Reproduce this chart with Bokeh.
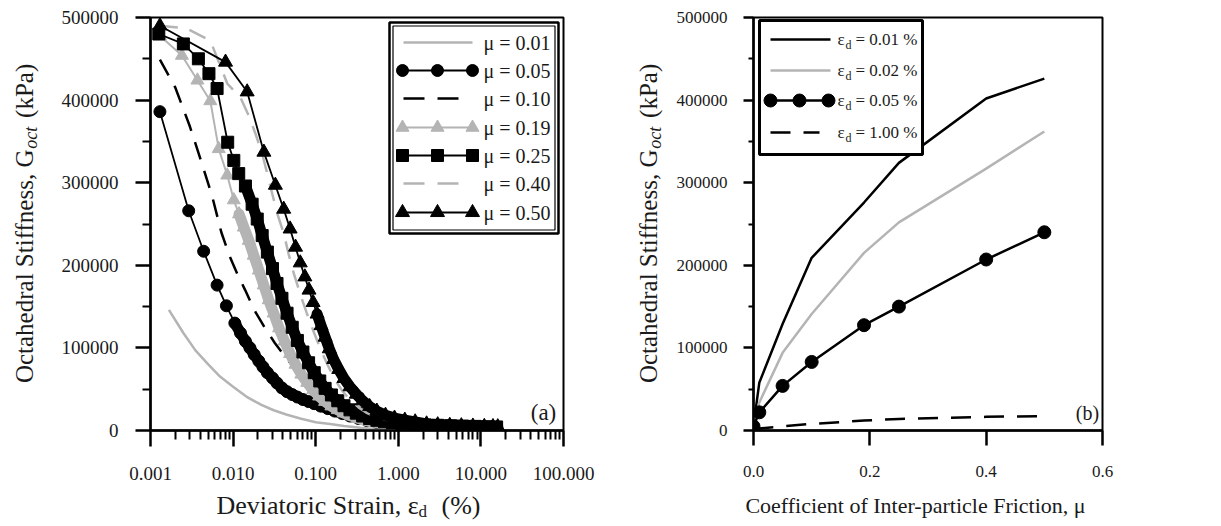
from math import pi
from bokeh.plotting import figure
from bokeh.models import Range1d, LinearScale, FixedTicker, PrintfTickFormatter, Label
from bokeh.layouts import row, column
from bokeh.core.properties import value
from bokeh.embed import file_html
from bokeh.resources import INLINE

FONT = "Liberation Serif"
INK = "#1a1a1a"
GRAY = "#b4b4b4"

# ---------------- data, panel (a): G_oct vs deviatoric strain ----------------
eps_001 = [0.00167, 0.0025, 0.0035, 0.005, 0.007, 0.01, 0.015, 0.022, 0.031, 0.045,
           0.065, 0.1, 0.15, 0.22, 0.35, 0.55, 1.0]
g_001 = [146000, 118000, 97000, 80000, 65000, 53000, 40000, 31000, 24500, 19000,
         14500, 10000, 8000, 5500, 3200, 1600, 400]

eps_005 = [0.0013, 0.0029, 0.0044, 0.0064, 0.0083, 0.0105, 0.0123, 0.0141, 0.016, 0.018,
           0.0205, 0.023, 0.026, 0.03, 0.034, 0.039, 0.045, 0.052, 0.06, 0.07,
           0.082, 0.096, 0.115, 0.14, 0.17, 0.21, 0.26, 0.33, 0.42, 0.55,
           0.75, 1.0, 1.4, 2.0, 2.8, 4.0, 5.5, 7.5, 10, 13, 15.5]
g_005 = [386000, 266000, 217000, 176000, 151000, 130000, 118000, 108000, 100000, 92000,
         84000, 77000, 70000, 63500, 57500, 51500, 47000, 43500, 40500, 37500,
         35000, 32500, 29500, 26500, 23500, 20500, 17500, 14500, 12000, 10000,
         8000, 6500, 5200, 4400, 3800, 3300, 3000, 2700, 2400, 2200, 2000]

eps_010 = [0.0013, 0.002, 0.003, 0.0042, 0.0056, 0.0072, 0.009, 0.0112, 0.014, 0.018,
           0.024, 0.032, 0.042, 0.055, 0.072, 0.095, 0.13, 0.18, 0.25, 0.35,
           0.5, 0.75, 1.1, 1.6, 2.5, 4, 6, 9, 13, 15.5]
g_010 = [449000, 415000, 368000, 323000, 283000, 240000, 212000, 190000, 170000, 146000,
         125000, 106000, 90000, 76000, 60000, 48000, 38000, 29000, 21000, 15000,
         10500, 7000, 5000, 4000, 3300, 2800, 2500, 2200, 2000, 1900]

eps_019 = [0.0013, 0.0024, 0.0037, 0.0053, 0.0067, 0.0085, 0.0102, 0.0118, 0.0135, 0.0155,
           0.0178, 0.0205, 0.0235, 0.027, 0.031, 0.036, 0.042, 0.049, 0.057, 0.067,
           0.079, 0.093, 0.11, 0.13, 0.155, 0.185, 0.22, 0.27, 0.33, 0.41,
           0.52, 0.66, 0.85, 1.1, 1.5, 2.1, 3, 4.3, 6, 8.5, 12, 15]
g_019 = [478000, 454000, 424000, 399000, 341000, 309000, 279000, 262000, 246000, 230000,
         212000, 194000, 176000, 158000, 142000, 124000, 108000, 93000, 80000, 68000,
         58000, 49000, 41500, 35000, 29500, 25000, 21000, 17500, 14500, 12000,
         9800, 8200, 7000, 6000, 5200, 4600, 4200, 3800, 3500, 3200, 3000, 2800]

eps_025 = [0.00126, 0.0025, 0.0038, 0.0051, 0.0064, 0.0086, 0.0102, 0.0117, 0.0141, 0.017,
           0.0196, 0.0225, 0.026, 0.03, 0.034, 0.039, 0.045, 0.052, 0.06, 0.07,
           0.082, 0.096, 0.112, 0.13, 0.155, 0.185, 0.22, 0.26, 0.31, 0.37,
           0.45, 0.55, 0.68, 0.85, 1.1, 1.5, 2.1, 3, 4.3, 6, 8.5, 12, 15.5]
g_025 = [480000, 468000, 450000, 432000, 414000, 349000, 327000, 311000, 296000, 274000,
         256000, 236000, 216000, 196000, 178000, 160000, 142000, 125000, 109000, 95000,
         82000, 70000, 60000, 51000, 43000, 36000, 30000, 25000, 21000, 17500,
         14500, 12300, 10500, 9200, 8200, 7400, 6800, 6300, 5800, 5400, 5000, 4600, 4300]

eps_040 = [0.0013, 0.0027, 0.0053, 0.0085, 0.0123, 0.0155, 0.0187, 0.0225, 0.0259, 0.0297,
           0.0342, 0.0412, 0.0469, 0.0544, 0.065, 0.078, 0.095, 0.115, 0.14, 0.17,
           0.21, 0.26, 0.33, 0.42, 0.55, 0.75, 1.0, 1.5, 2.5, 4, 7, 11, 15.5]
g_040 = [490000, 487000, 472000, 420000, 403000, 381000, 359000, 335000, 311000, 287000,
         263000, 238000, 214000, 190000, 165000, 142000, 119000, 98000, 79000, 62000,
         48000, 37000, 28000, 21000, 16000, 12500, 10500, 9000, 8000, 7300, 6600, 6000, 5600]

eps_050 = [0.0013, 0.0081, 0.0148, 0.0236, 0.0325, 0.041, 0.049, 0.057, 0.065, 0.074,
           0.083, 0.093, 0.104, 0.116, 0.13, 0.146, 0.165, 0.19, 0.22, 0.26,
           0.31, 0.37, 0.45, 0.55, 0.7, 0.9, 1.2, 1.6, 2.2, 3, 4.2, 5.8, 8, 11, 14, 16]
g_050 = [490000, 446000, 410000, 337000, 297000, 268000, 244000, 222000, 203000, 186000,
         170000, 155000, 141000, 127000, 113000, 99000, 86000, 74000, 63000, 53000,
         44000, 36000, 29000, 23500, 18500, 15000, 12500, 10500, 8000, 7000, 6300, 5800,
         5400, 5000, 4800, 4600]

legend_a = ["\u03bc = 0.01", "\u03bc = 0.05", "\u03bc = 0.10", "\u03bc = 0.19",
            "\u03bc = 0.25", "\u03bc = 0.40", "\u03bc = 0.50"]

# ---------------- data, panel (b): G_oct vs friction coefficient ----------------
mu_b = [0, 0.01, 0.05, 0.1, 0.19, 0.25, 0.4, 0.5]
g_e001 = [6000, 58000, 129000, 209000, 276000, 324000, 402000, 426000]
g_e002 = [5000, 34000, 94000, 141000, 215000, 252000, 317000, 362000]
g_e005 = [5000, 22000, 54000, 83000, 127500, 150000, 207000, 240000]
g_e100 = [1000, 2500, 5000, 8000, 12000, 14000, 16500, 17500]
legend_b_vals = ["= 0.01 %", "= 0.02 %", "= 0.05 %", "= 1.00 %"]

x_ticks_a = [0.001, 0.01, 0.1, 1, 10, 100]
x_ticks_b = [0, 0.2, 0.4, 0.6]
y_ticks = [0, 100000, 200000, 300000, 400000, 500000]
y_minor = [50000, 150000, 250000, 350000, 450000]

DASH = "18 12"


def style_plot(p):
    p.xgrid.visible = False
    p.ygrid.visible = False
    p.outline_line_color = "black"
    p.outline_line_width = 2
    p.outline_line_alpha = 1.0
    p.background_fill_color = "white"
    p.border_fill_color = "white"


def style_axis(ax, font_px, tick_out, minor_out, standoff):
    ax.axis_line_color = "black"
    ax.axis_line_width = 2.5
    ax.major_tick_line_color = "black"
    ax.major_tick_line_width = 2.5
    ax.major_tick_out = tick_out
    ax.major_tick_in = 0
    ax.minor_tick_line_color = "black"
    ax.minor_tick_line_width = 2
    ax.minor_tick_out = minor_out
    ax.minor_tick_in = 0
    ax.major_label_text_font = FONT
    ax.major_label_text_font_size = f"{font_px}px"
    ax.major_label_text_color = INK
    ax.major_label_standoff = standoff


def label(p, x, y, text, size, style="normal", align="left"):
    p.add_layout(Label(x=x, y=y, x_units="screen", y_units="screen", text=text,
                       text_font=FONT, text_font_size=f"{size}px",
                       text_font_style=style, text_color=INK, text_align=align,
                       text_baseline="middle"))


def text_fig(w, h):
    t = figure(width=w, height=h, x_range=Range1d(0, w), y_range=Range1d(0, h),
               x_axis_location=None, y_axis_location=None, min_border=0,
               output_backend="svg", toolbar_location=None)
    t.grid.visible = False
    t.outline_line_color = None
    t.background_fill_color = "white"
    t.border_fill_color = "white"
    return t


def put(t, x, y, s, size, angle=0.0, style="normal", align="left"):
    t.text(x=[x], y=[y], text=[s], angle=angle, text_font=value(FONT),
           text_font_size=f"{size}px", text_font_style=style, text_color=INK,
           text_align=align, text_baseline="middle")


def ytitle(t, xc):
    # rotated pieces anchored at their far (upper) ends; strip height 491 px
    put(t, xc, 334, "Octahedral Stiffness, G", 25, angle=pi / 2, align="right")
    put(t, xc + 6, 361, "oct", 18, angle=pi / 2, style="italic", align="right")
    put(t, xc, 436, "(kPa)", 25, angle=pi / 2, align="right")


# ============================== panel (a) ==============================
pa = figure(width=554, height=491, x_axis_type="log",
            x_range=Range1d(0.001, 100), y_range=Range1d(0, 500000),
            output_backend="svg", toolbar_location=None,
            min_border_left=104, min_border_right=37,
            min_border_top=17, min_border_bottom=61)
style_plot(pa)
pa.extra_x_ranges = {"px": Range1d(0, 413)}
pa.extra_y_ranges = {"px": Range1d(0, 413)}
pa.extra_x_scales = {"px": LinearScale()}

pa.xaxis.ticker = FixedTicker(ticks=x_ticks_a,
                              minor_ticks=[m * 10.0 ** e for e in range(-3, 2) for m in range(2, 10)])
pa.xaxis.formatter = PrintfTickFormatter(format="%.3f")
pa.yaxis.ticker = FixedTicker(ticks=y_ticks, minor_ticks=y_minor)
pa.yaxis.formatter = PrintfTickFormatter(format="%d")
style_axis(pa.xaxis[0], 19, 16, 9, 20)
style_axis(pa.yaxis[0], 19, 15, 8, 17)

BAND = dict(line_join="round", line_cap="round")
# mu = 0.01
pa.line(eps_001, g_001, line_color=GRAY, line_width=2.5)
# mu = 0.05 (circles; dense points merge into a band)
pa.line(eps_005, g_005, line_color="black", line_width=1.8)
pa.line(eps_005[5:], g_005[5:], line_color="black", line_width=11, **BAND)
pa.scatter(eps_005, g_005, marker="circle", size=12, color="black")
# mu = 0.10
pa.line(eps_010, g_010, line_color="black", line_width=2.5, line_dash=DASH)
# mu = 0.19 (grey triangles)
pa.line(eps_019, g_019, line_color=GRAY, line_width=2)
pa.line(eps_019[7:], g_019[7:], line_color=GRAY, line_width=11, **BAND)
pa.scatter(eps_019, g_019, marker="triangle", size=13, color=GRAY)
# mu = 0.25 (squares)
pa.line(eps_025, g_025, line_color="black", line_width=1.8)
pa.line(eps_025[8:], g_025[8:], line_color="black", line_width=11, **BAND)
pa.scatter(eps_025, g_025, marker="square", size=12, color="black")
# mu = 0.40
pa.line(eps_040, g_040, line_color=GRAY, line_width=2.5, line_dash=DASH)
# mu = 0.50 (triangles)
pa.line(eps_050, g_050, line_color="black", line_width=1.8)
pa.line(eps_050[12:], g_050[12:], line_color="black", line_width=11, **BAND)
pa.scatter(eps_050, g_050, marker="triangle", size=14, color="black")

# legend (a), drawn in frame-pixel coordinates (double border)
PX = dict(x_range_name="px", y_range_name="px")
pa.quad(left=[239], right=[408], bottom=[197], top=[408], fill_color="white",
        line_color="black", line_width=2.5, **PX)
pa.quad(left=[242.5], right=[404.5], bottom=[200.5], top=[404.5], fill_color=None,
        line_color="black", line_width=1.2, **PX)
rows_a = [388, 360, 332, 303, 275, 247, 218]
styles_a = [
    (GRAY, None, None, 0, 2.5),
    ("black", None, "circle", 12, 1.8),
    ("black", "21 13", None, 0, 2.5),
    (GRAY, None, "triangle", 13, 2),
    ("black", None, "square", 12, 1.8),
    (GRAY, "21 13", None, 0, 2.5),
    ("black", None, "triangle", 14, 1.8),
]
for yy, (col, dash, mk, sz, lw), txt in zip(rows_a, styles_a, legend_a):
    if dash:
        pa.line([253, 310], [yy, yy], line_color=col, line_width=lw, line_dash=dash, **PX)
    elif mk:
        pa.line([252, 322], [yy, yy], line_color=col, line_width=lw, **PX)
        pa.scatter([252, 287, 322], [yy, yy, yy], marker=mk, size=sz, color=col, **PX)
    else:
        pa.line([253, 322], [yy, yy], line_color=col, line_width=lw, **PX)
    label(pa, 333, yy, txt, 20)

label(pa, 393, 18, "(a)", 23, align="center")

# axis titles (a)
ytA = text_fig(46, 491)
ytitle(ytA, 24)
xtA = text_fig(600, 35)
put(xtA, 216, 21, "Deviatoric Strain, \u03b5", 26)
put(xtA, 418, 15, "d", 17)
put(xtA, 441, 21, "(%)", 26)

# ============================== panel (b) ==============================
pb = figure(width=555, height=491,
            x_range=Range1d(0, 0.6), y_range=Range1d(0, 500000),
            output_backend="svg", toolbar_location=None,
            min_border_left=87, min_border_right=119,
            min_border_top=17, min_border_bottom=61)
style_plot(pb)
pb.extra_x_ranges = {"px": Range1d(0, 349)}
pb.extra_y_ranges = {"px": Range1d(0, 413)}
pb.extra_x_scales = {"px": LinearScale()}

pb.xaxis.ticker = FixedTicker(ticks=x_ticks_b, minor_ticks=[])
pb.xaxis.formatter = PrintfTickFormatter(format="%.1f")
pb.yaxis.ticker = FixedTicker(ticks=y_ticks, minor_ticks=y_minor)
pb.yaxis.formatter = PrintfTickFormatter(format="%d")
style_axis(pb.xaxis[0], 17, 15, 0, 20)
style_axis(pb.yaxis[0], 17, 10, 5, 16)

pb.line(mu_b, g_e001, line_color="black", line_width=2.5)
pb.line(mu_b, g_e002, line_color=GRAY, line_width=2.5)
pb.line(mu_b, g_e005, line_color="black", line_width=2.5)
pb.scatter(mu_b, g_e005, marker="circle", size=13, color="black")
pb.line(mu_b, g_e100, line_color="black", line_width=2.5, line_dash="20 13")

PXb = dict(x_range_name="px", y_range_name="px")
pb.quad(left=[6], right=[169], bottom=[276], top=[410], fill_color="white",
        line_color="black", line_width=3, **PXb)
rows_b = [391, 360, 330, 298]
styles_b = [("black", None, False), (GRAY, None, False), ("black", None, True), ("black", "20 13", False)]
for yy, (col, dash, mk), txt in zip(rows_b, styles_b, legend_b_vals):
    if dash:
        pb.line([17, 66], [yy, yy], line_color=col, line_width=2.5, line_dash=dash, **PXb)
    else:
        pb.line([17, 77], [yy, yy], line_color=col, line_width=2.5, **PXb)
    if mk:
        pb.scatter([17, 46, 75], [yy, yy, yy], marker="circle", size=13, color=col, **PXb)
    label(pb, 84, yy, "\u03b5", 17)
    label(pb, 92, yy - 5, "d", 12)
    label(pb, 102, yy, txt, 17)

label(pb, 334, 18, "(b)", 20, align="center")

ytB = text_fig(66, 491)
ytitle(ytB, 48)
xtB = text_fig(621, 35)
put(xtB, 315, 21, "Coefficient of Inter-particle Friction, \u03bc", 22, align="center")

layout = row(column(row(ytA, pa), xtA), column(row(ytB, pb), xtB))
open("out.html", "w").write(file_html(layout, INLINE))
